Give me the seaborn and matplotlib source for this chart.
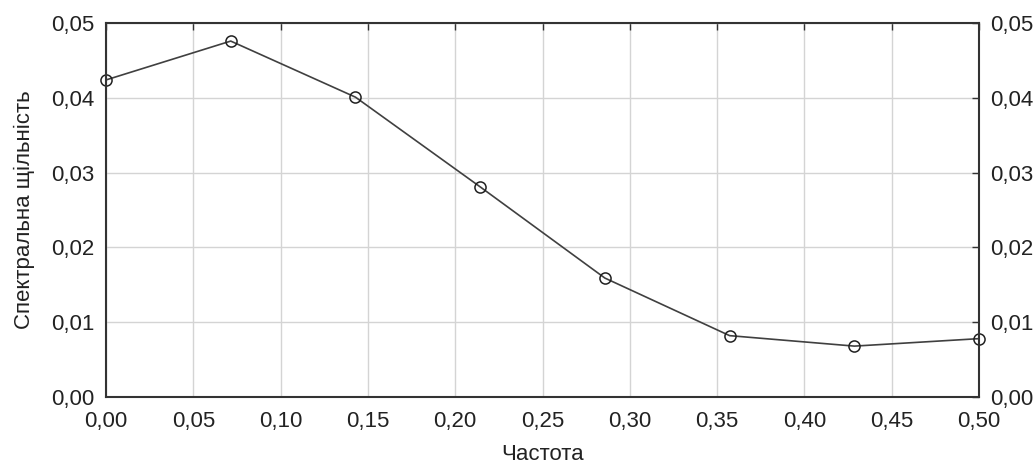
import matplotlib
matplotlib.use("Agg")
import matplotlib.pyplot as plt
import seaborn as sns
import pandas as pd
from matplotlib.ticker import FuncFormatter, MultipleLocator

# data
freq = [0.0, 1 / 14, 2 / 14, 3 / 14, 4 / 14, 5 / 14, 6 / 14, 7 / 14]
density = [0.0424, 0.0476, 0.0401, 0.0281, 0.0159, 0.0082, 0.0068, 0.0078]

df = pd.DataFrame({"freq": freq, "density": density})

sns.set_theme(style="whitegrid")
plt.rcParams["font.family"] = ["Liberation Sans", "DejaVu Sans"]

fig = plt.figure(figsize=(10.35, 4.72), dpi=100)
ax = fig.add_axes([0.1024, 0.159, 0.8436, 0.792])

sns.lineplot(data=df, x="freq", y="density", ax=ax, color="#404040",
             linewidth=1.2, marker="o", markersize=8, markerfacecolor="none",
             markeredgecolor="#202020", markeredgewidth=1.1, clip_on=False)

ax.set_xlim(0, 0.5)
ax.set_ylim(0, 0.05)
ax.xaxis.set_major_locator(MultipleLocator(0.05))
ax.yaxis.set_major_locator(MultipleLocator(0.01))

comma = FuncFormatter(lambda v, p: f"{v:.2f}".replace(".", ","))
ax.xaxis.set_major_formatter(comma)
ax.yaxis.set_major_formatter(comma)

ax.grid(True, color="#d4d4d4", linewidth=1.0)
for s in ax.spines.values():
    s.set_visible(True)
    s.set_color("#333333")
    s.set_linewidth(1.5)

ax.tick_params(axis="both", direction="in", length=5, width=1, color="#333333",
               labelsize=16, labelcolor="#222222", top=True, right=True,
               labelright=True)
ax.tick_params(axis="x", pad=10)
ax.tick_params(axis="y", pad=8)

ax.set_xlabel("Частота", fontsize=16, color="#222222", labelpad=9)
ax.set_ylabel("Спектральна щільність", fontsize=16, color="#222222", labelpad=12)

fig.savefig("out.png", dpi=100)
